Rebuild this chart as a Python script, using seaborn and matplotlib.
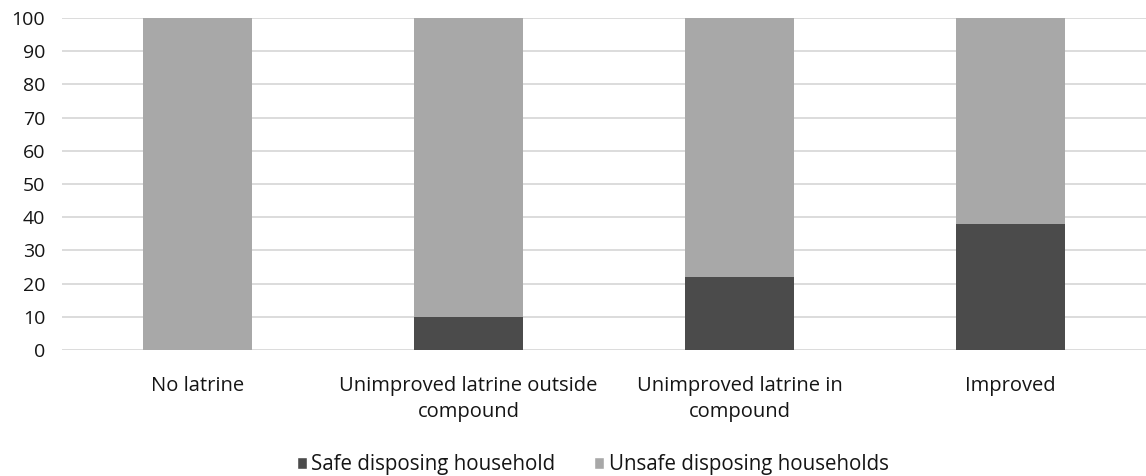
import matplotlib
matplotlib.use("Agg")
import matplotlib.pyplot as plt
import seaborn as sns
import pandas as pd
from matplotlib.patches import Patch

categories = ["No latrine", "Unimproved latrine outside\ncompound",
              "Unimproved latrine in\ncompound", "Improved"]
safe = [0, 10, 22, 38]
unsafe = [100, 90, 78, 62]
series_names = ["Safe disposing household", "Unsafe disposing households"]
y_ticks = [0, 10, 20, 30, 40, 50, 60, 70, 80, 90, 100]

sns.set_theme(style="white")
plt.rcParams["font.family"] = ["Open Sans", "DejaVu Sans"]

dark = "#4b4b4b"
light = "#a8a8a8"
text_color = "#151515"

df = pd.DataFrame({
    "category": categories,
    "safe": safe,
    "total": [s + u for s, u in zip(safe, unsafe)],
})

fig = plt.figure(figsize=(11.46, 4.76), dpi=100)
ax = fig.add_axes([0.054, 0.2647, 0.946, 0.6975])

# stacked bars: full height in light grey, safe portion drawn over it
sns.barplot(data=df, x="category", y="total", color=light, width=0.4,
            saturation=1, linewidth=0, ax=ax, zorder=2)
sns.barplot(data=df, x="category", y="safe", color=dark, width=0.4,
            saturation=1, linewidth=0, ax=ax, zorder=3)

ax.set_ylim(0, 100)
ax.set_xlim(-0.5, 3.5)
ax.set_yticks(y_ticks)
ax.yaxis.grid(True, color="#d9d9d9", linewidth=1.3, zorder=0)
ax.set_axisbelow(True)
for s in ax.spines.values():
    s.set_visible(False)
ax.set_xlabel("")
ax.set_ylabel("")
ax.tick_params(axis="y", length=0, labelsize=14, colors=text_color, pad=12)
ax.tick_params(axis="x", length=0, labelsize=14.5, colors=text_color, pad=19)
for lbl in ax.get_xticklabels():
    lbl.set_linespacing(1.4)

handles = [Patch(facecolor=dark, label=series_names[0]),
           Patch(facecolor=light, label=series_names[1])]
leg = fig.legend(handles=handles, loc="center", bbox_to_anchor=(0.517, 0.024),
                 ncol=2, frameon=False, fontsize=14.8, handlelength=0.5,
                 handleheight=0.5, handletextpad=0.2, columnspacing=1.9)
for t in leg.get_texts():
    t.set_color(text_color)

fig.savefig("out.png", dpi=100, facecolor="white")
